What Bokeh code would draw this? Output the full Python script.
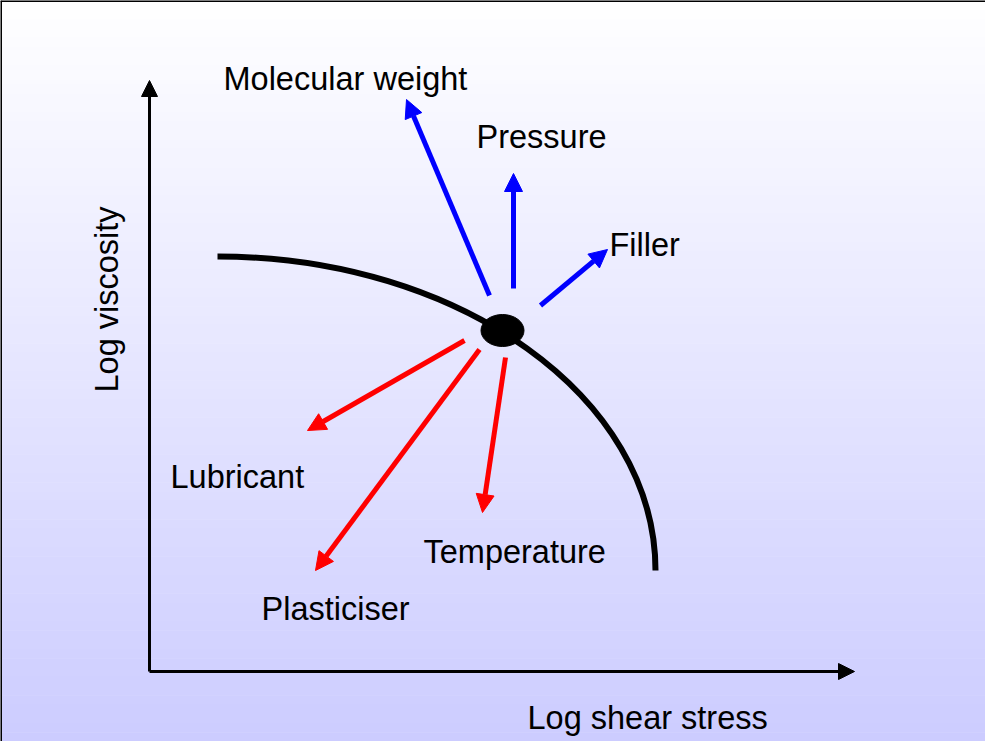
import math
from bokeh.plotting import figure
from bokeh.models import Arrow, NormalHead, Range1d, Label, ColumnDataSource
from bokeh.core.properties import value
from bokeh.embed import file_html
from bokeh.resources import INLINE

# ---- schematic data (pixel-space coordinates of the slide) ----
# flow curve (cubic bezier: start, control 1, control 2, end)
curve_start = [225, 264]
curve_ctrl1 = [467, 264]
curve_ctrl2 = [663, 405]
curve_end = [663, 578]

# operating point
dot_x, dot_y, dot_w, dot_h = 510, 338, 43, 32

# axes arrows
axis_x0 = [157, 157]
axis_y0 = [679, 679]
axis_x1 = [157, 862]
axis_y1 = [88, 679]

# factor arrows: blue = increase viscosity, red = decrease
blue_names = ["Molecular weight", "Pressure", "Filler"]
blue_x0 = [497, 521, 548]
blue_y0 = [303, 296, 313]
blue_x1 = [414, 521, 615]
blue_y1 = [107, 181, 257]

red_names = ["Lubricant", "Plasticiser", "Temperature"]
red_x0 = [472, 487, 513]
red_y0 = [348, 357, 365]
red_x1 = [315, 323, 490]
red_y1 = [438, 578, 520]

# labels (left x, baseline y)
label_texts = ["Molecular weight", "Pressure", "Filler", "Lubricant",
               "Temperature", "Plasticiser", "Log shear stress"]
label_x = [231, 484, 617, 178, 431, 269, 535]
label_y = [86, 144, 252, 484, 559, 616, 725]
ylabel_text = "Log viscosity"
ylabel_x, ylabel_y = 114, 400

W, H = 985, 741
X0, Y0 = 8, 8

p = figure(width=W, height=H, x_range=Range1d(X0, X0 + W), y_range=Range1d(Y0 + H, Y0),
           output_backend="svg", toolbar_location=None, min_border=0,
           x_axis_location=None, y_axis_location=None)
p.grid.visible = False
p.outline_line_color = None
p.background_fill_color = "white"
p.border_fill_color = "white"

# vertical gradient background: white -> #CCCCFF
n = 80
step = H / n
tops, bottoms, cols = [], [], []
for i in range(n):
    t = (i + 0.5) / n
    c = int(round(255 - (255 - 204) * t))
    tops.append(Y0 + i * step)
    bottoms.append(Y0 + (i + 1) * step + 0.5)
    cols.append("#%02x%02xff" % (c, c))
p.quad(left=X0, right=X0 + W, top=tops, bottom=bottoms, fill_color=cols, line_color=None)

# slide border (top and left)
p.segment(x0=[X0, X0], y0=[Y0, Y0], x1=[X0 + W, X0], y1=[Y0, Y0 + H],
          line_color="black", line_width=3)

# axes
for i in range(2):
    p.add_layout(Arrow(end=NormalHead(size=16, fill_color="black", line_color="black"),
                       x_start=axis_x0[i], y_start=axis_y0[i], x_end=axis_x1[i], y_end=axis_y1[i],
                       line_color="black", line_width=3))

# curve
p.bezier(x0=[curve_start[0]], y0=[curve_start[1]], x1=[curve_end[0]], y1=[curve_end[1]],
         cx0=[curve_ctrl1[0]], cy0=[curve_ctrl1[1]], cx1=[curve_ctrl2[0]], cy1=[curve_ctrl2[1]],
         line_color="black", line_width=6)

# dot
p.ellipse(x=[dot_x], y=[dot_y], width=[dot_w], height=[dot_h], fill_color="black", line_color="black")

# arrows
for xs0, ys0, xs1, ys1, col in [(blue_x0, blue_y0, blue_x1, blue_y1, "#0000ff"),
                                 (red_x0, red_y0, red_x1, red_y1, "#ff0000")]:
    for i in range(len(xs0)):
        p.add_layout(Arrow(end=NormalHead(size=18, fill_color=col, line_color=col, line_width=1),
                           x_start=xs0[i], y_start=ys0[i], x_end=xs1[i], y_end=ys1[i],
                           line_color=col, line_width=5))

# labels
src = ColumnDataSource(dict(x=label_x, y=label_y, t=label_texts))
p.text(x="x", y="y", text="t", source=src, text_font=value("Liberation Sans"),
       text_font_size="32.5px", text_color="black", text_align="left", text_baseline="alphabetic")

p.add_layout(Label(x=ylabel_x, y=ylabel_y, text=ylabel_text, angle=math.pi / 2,
                   text_font="Liberation Sans", text_font_size="32.5px", text_color="black",
                   text_align="left", text_baseline="alphabetic"))

open("out.html", "w").write(file_html(p, INLINE))
